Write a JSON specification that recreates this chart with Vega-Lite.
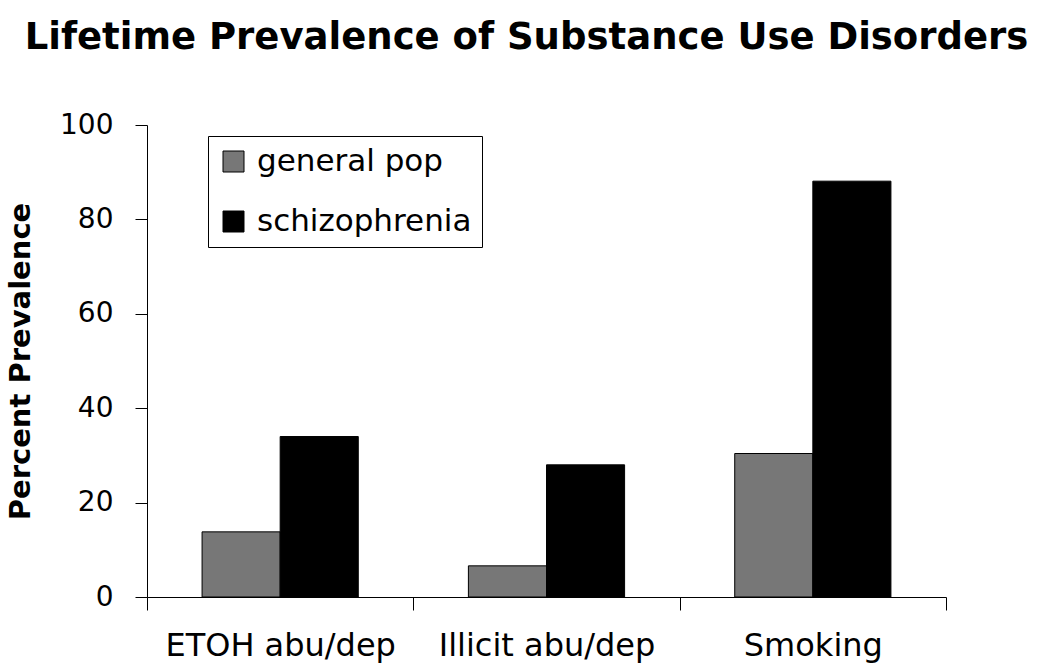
{
  "$schema": "https://vega.github.io/schema/vega-lite/v6.json",
  "autosize": "none",
  "padding": {"left": 147, "top": 125, "right": 104, "bottom": 75},
  "width": 799,
  "height": 472,
  "background": "white",
  "title": {
    "text": "Lifetime Prevalence of Substance Use Disorders",
    "font": "DejaVu Sans",
    "fontSize": 37,
    "fontWeight": "bold",
    "color": "black",
    "anchor": "middle",
    "frame": "group",
    "dx": -20,
    "baseline": "alphabetic",
    "offset": 25
  },
  "data": {
    "values": [
      {"category": "ETOH abu/dep", "group": "general pop", "percent": 13.8},
      {"category": "ETOH abu/dep", "group": "schizophrenia", "percent": 34.0},
      {"category": "Illicit abu/dep", "group": "general pop", "percent": 6.6},
      {"category": "Illicit abu/dep", "group": "schizophrenia", "percent": 28.0},
      {"category": "Smoking", "group": "general pop", "percent": 30.4},
      {"category": "Smoking", "group": "schizophrenia", "percent": 88.1}
    ]
  },
  "mark": {"type": "bar", "stroke": "black", "strokeWidth": 1},
  "encoding": {
    "x": {
      "field": "category",
      "type": "nominal",
      "sort": null,
      "scale": {"paddingInner": 0, "paddingOuter": 0},
      "axis": {
        "title": null,
        "labelAngle": 0,
        "labelFont": "DejaVu Sans",
        "labelFontSize": 32,
        "labelColor": "black",
        "labelPadding": 20,
        "labelLimit": 400,
        "tickBand": "extent",
        "tickSize": 13,
        "tickColor": "black",
        "domainColor": "black",
        "grid": false
      }
    },
    "xOffset": {
      "field": "group",
      "type": "nominal",
      "scale": {"paddingInner": 0, "paddingOuter": 0.705}
    },
    "y": {
      "field": "percent",
      "type": "quantitative",
      "scale": {"domain": [0, 100], "nice": false},
      "axis": {
        "title": "Percent Prevalence",
        "titleFont": "DejaVu Sans",
        "titleFontSize": 29,
        "titleFontWeight": "bold",
        "titleColor": "black",
        "titlePadding": 24,
        "values": [0, 20, 40, 60, 80, 100],
        "labelFont": "DejaVu Sans",
        "labelFontSize": 28,
        "labelColor": "black",
        "labelPadding": 22,
        "tickSize": 12,
        "tickColor": "black",
        "domainColor": "black",
        "grid": false
      }
    },
    "color": {
      "field": "group",
      "type": "nominal",
      "scale": {"domain": ["general pop", "schizophrenia"], "range": ["#777777", "#000000"]},
      "legend": {
        "title": null,
        "orient": "none",
        "legendX": 61,
        "legendY": 11,
        "padding": 10,
        "strokeColor": "black",
        "fillColor": "white",
        "symbolType": "square",
        "symbolSize": 441,
        "symbolStrokeColor": "black",
        "symbolStrokeWidth": 1,
        "labelFont": "DejaVu Sans",
        "labelFontSize": 31,
        "labelColor": "black",
        "labelOffset": 8,
        "rowPadding": 28,
        "labelLimit": 400
      }
    }
  },
  "config": {
    "view": {"stroke": null},
    "axis": {"domainWidth": 1, "tickWidth": 1}
  }
}
